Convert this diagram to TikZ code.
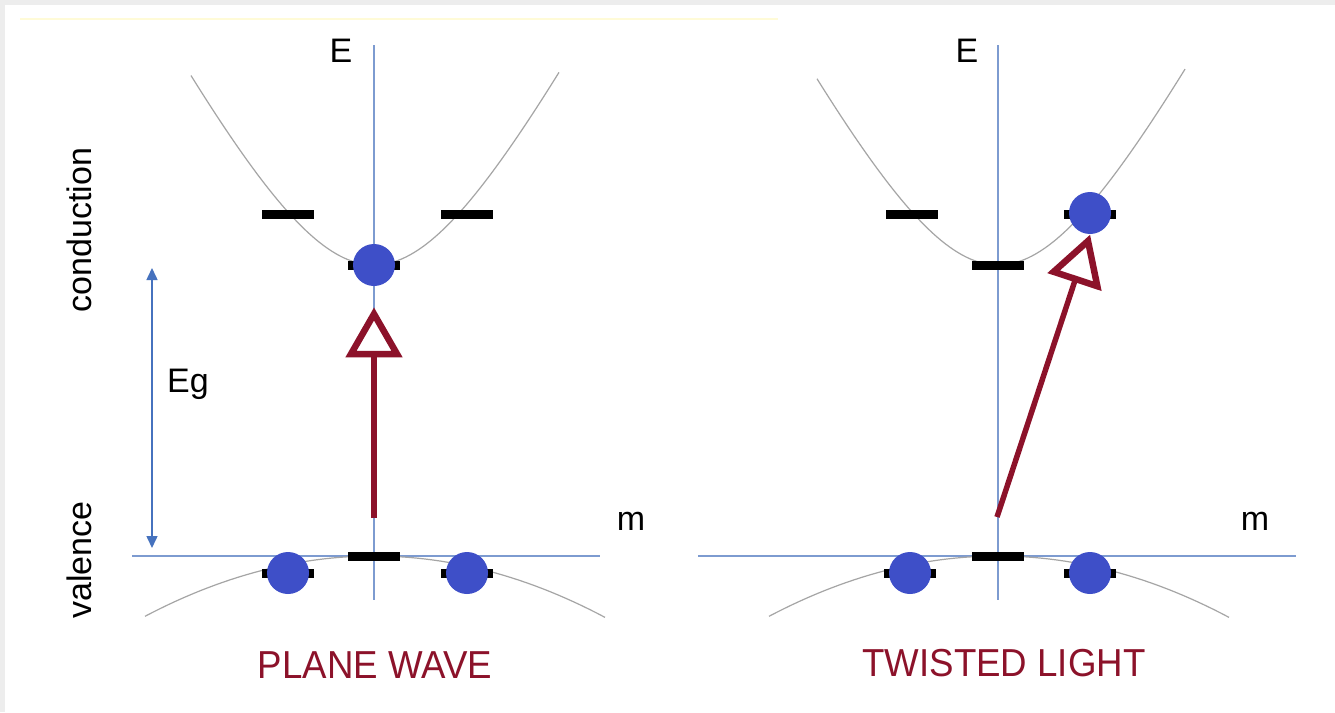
\documentclass[tikz,border=0pt]{standalone}
\usepackage{fontspec}
\setmainfont{Liberation Sans}
\usetikzlibrary{calc,arrows.meta}
\definecolor{dotblue}{RGB}{62,79,200}
\definecolor{axisblue}{RGB}{125,155,208}
\definecolor{egblue}{RGB}{70,114,190}
\definecolor{wine}{RGB}{140,18,42}
\definecolor{curvegrey}{RGB}{165,165,165}
\definecolor{framegrey}{RGB}{237,237,237}
\definecolor{paleyellow}{RGB}{255,251,215}
\begin{document}
\begin{tikzpicture}[x=1pt,y=-1pt,
  axis/.style={draw=axisblue, line width=1.4pt},
  band/.style={draw=curvegrey, line width=1.2pt},
  level/.style={rectangle, fill=black, minimum width=52pt, minimum height=9pt, inner sep=0pt},
  carrier/.style={circle, fill=dotblue, minimum size=42pt, inner sep=0pt},
  lbl/.style={font=\fontsize{34}{40}\selectfont, inner sep=0pt, anchor=base},
  title/.style={font=\fontsize{39}{46}\selectfont, text=wine, xscale=0.94, inner sep=0pt, anchor=base},
  transition/.style={draw=wine, line width=5.5pt},
  head/.style={draw=wine, line width=6.5pt, fill=white, line join=miter},
  gap/.style={draw=egblue, line width=1.5pt, {Triangle[length=12pt,width=11pt]}-{Triangle[length=12pt,width=11pt]}}
]
% frame
\fill[framegrey] (0,0) rectangle (1335,712);
\fill[white] (5,5) rectangle (1335,712);
\draw[paleyellow, line width=2pt] (20,19) -- (778,19);

% ---------- left panel ----------
\draw[axis] (374,45) -- (374,600);
\draw[axis] (132,556) -- (600,556);
\draw[band] plot[domain=-183:185, samples=90] ({374+\x},{265-230*(sqrt(1+(\x/120)^2)-1)});
\draw[band] plot[domain=-229:231, samples=60] ({374+\x},{556+11.5*(\x/100)^2});

\node[level] (Lc1) at (288,214) {};
\node[level] (Lc2) at (467,214) {};
\node[level] (Lc0) at (374,265) {};
\node[level] (Lv0) at (374,556) {};
\node[level] (Lv1) at (288,573) {};
\node[level] (Lv2) at (467,573) {};
\node[carrier] (Le0) at (374,265) {};
\node[carrier] (Lh1) at (288,573) {};
\node[carrier] (Lh2) at (467,573) {};

\coordinate (Lt) at (374,518);
\coordinate (Lp) at (374,314);
\coordinate (Lb) at ($(Lp)!40pt!(Lt)$);
\coordinate (Lbl) at ($(Lb)!23pt!90:(Lp)$);
\coordinate (Lbr) at ($(Lb)!23pt!-90:(Lp)$);
\draw[transition] (Lt) -- (Lb);
\draw[head] (Lp) -- (Lbl) -- (Lbr) -- cycle;

\coordinate (EgTop) at (152,268);
\coordinate (EgBot) at (152,548);
\draw[gap] (EgTop) -- (EgBot);
\node[lbl] (Eg) at (188,392) {Eg};

\node[lbl] (LE) at (341,62) {E};
\node[lbl] (Lm) at (631,530) {m};
\node[lbl, rotate=90] (cond) at (91,230) {conduction};
\node[lbl, rotate=90] (val) at (91,560) {valence};
\node[title] (plane) at (375,678) {PLANE WAVE};

% ---------- right panel ----------
\draw[axis] (998,45) -- (998,600);
\draw[axis] (698,556) -- (1296,556);
\draw[band] plot[domain=-181:187, samples=90] ({998+\x},{265-230*(sqrt(1+(\x/120)^2)-1)});
\draw[band] plot[domain=-229:231, samples=60] ({998+\x},{556+11.5*(\x/100)^2});

\node[level] (Rc1) at (912,214) {};
\node[level] (Rc2) at (1090,214) {};
\node[level] (Rc0) at (998,265) {};
\node[level] (Rv0) at (998,556) {};
\node[level] (Rv1) at (910,573) {};
\node[level] (Rv2) at (1090,573) {};
\node[carrier] (Re2) at (1090,213) {};
\node[carrier] (Rh1) at (910,573) {};
\node[carrier] (Rh2) at (1090,573) {};

\coordinate (Rt) at (997,517);
\coordinate (Rp) at (1088,241);
\coordinate (Rb) at ($(Rp)!40pt!(Rt)$);
\coordinate (Rbl) at ($(Rb)!23pt!90:(Rp)$);
\coordinate (Rbr) at ($(Rb)!23pt!-90:(Rp)$);
\draw[transition] (Rt) -- (Rb);
\draw[head] (Rp) -- (Rbl) -- (Rbr) -- cycle;

\node[lbl] (RE) at (967,62) {E};
\node[lbl] (Rm) at (1255,530) {m};
\node[title] (twisted) at (1004,676) {TWISTED LIGHT};
\end{tikzpicture}
\end{document}
